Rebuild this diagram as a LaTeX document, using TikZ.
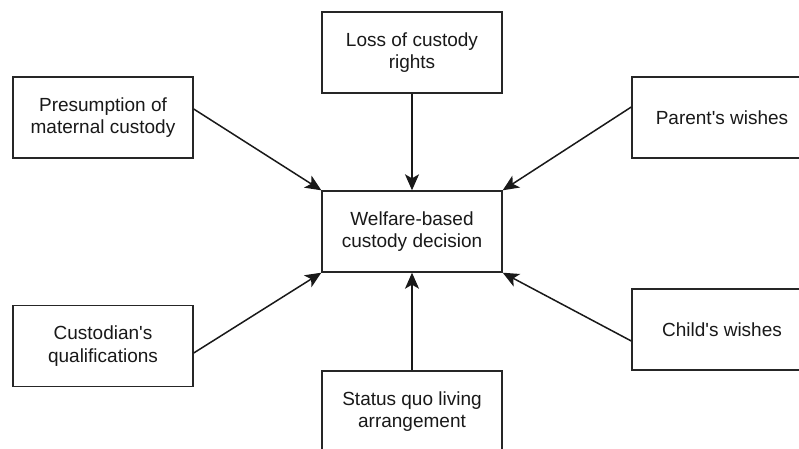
\documentclass[tikz,border=0pt]{standalone}
\usepackage{fontspec}
\setmainfont{Liberation Sans}
\usetikzlibrary{arrows.meta}
\begin{document}
\begin{tikzpicture}[x=1pt,y=-1pt,
  box/.style={draw=black!85,line width=1.4pt,fill=white,minimum width=180pt,minimum height=81pt,
    inner sep=0pt,align=center,font=\fontsize{19}{22.5}\selectfont,text=black!90},
  arr/.style={draw=black!90,line width=1.5pt,-{Stealth[length=16pt,width=14pt,inset=4pt]}}]
\useasboundingbox (0,0) rectangle (799,448);
\clip (0,0) rectangle (799,448);
\fill[white] (0,0) rectangle (799,448);
\node[box] (top) at (412,52.5) {Loss of custody\\rights};
\node[box] (lt) at (103,117.5) {Presumption of\\maternal custody};
\node[box] (rt) at (722,117.5) {Parent\textquotesingle s wishes};
\node[box] (c) at (412,231.5) {Welfare-based\\custody decision};
\node[box] (lb) at (103,346) {Custodian\textquotesingle s\\qualifications};
\node[box] (rb) at (722,329.5) {Child\textquotesingle s wishes};
\node[box] (bot) at (412,411.5) {Status quo living\\arrangement};
\draw[arr] (top.south) -- (c.north);
\draw[arr] ([yshift=8.5pt]lt.east) -- (c.north west);
\draw[arr] ([yshift=10.5pt]rt.west) -- (c.north east);
\draw[arr] ([yshift=-7pt]lb.east) -- (c.south west);
\draw[arr] ([yshift=-11.5pt]rb.west) -- (c.south east);
\draw[arr] (bot.north) -- (c.south);
\end{tikzpicture}
\end{document}
